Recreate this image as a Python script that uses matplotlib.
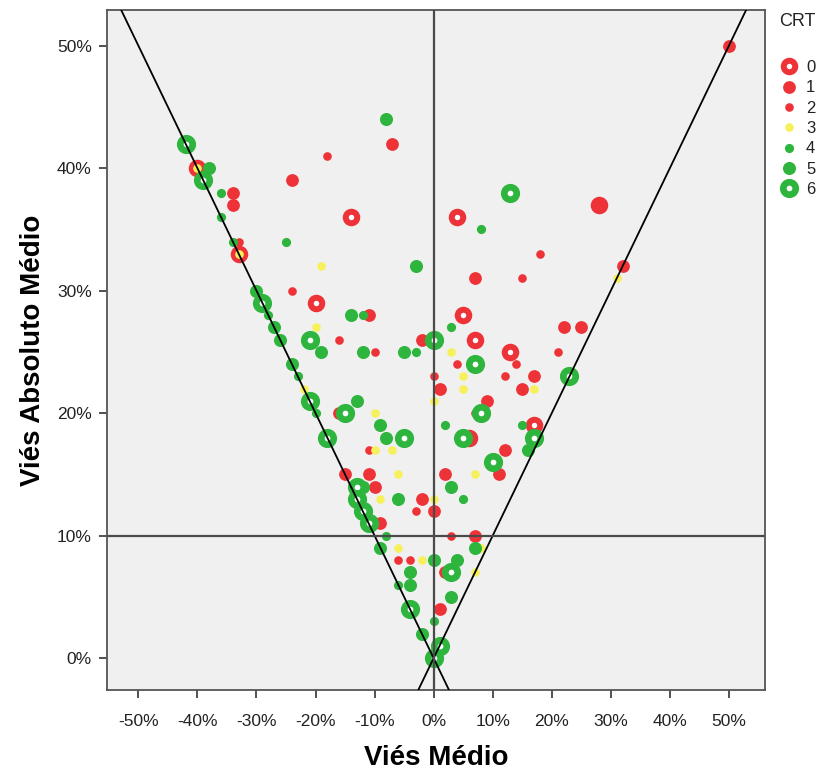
import matplotlib
matplotlib.use("Agg")
import matplotlib.pyplot as plt
from matplotlib.lines import Line2D

# points per CRT group, values in percent (Viés Médio, Viés Absoluto Médio)
crt0_x = [-40, -33, -14, -20, 7, 13, 17, 6, 5, 4, 28]
crt0_y = [40, 33, 36, 29, 26, 25, 19, 18, 28, 36, 37]

crt1_x = [50, -7, -34, -34, -24, -11, -2, -16, -15, -11, -10, -2, 0, -9, 7, 2, 1,
          17, 1, 15, 9, 12, 11, 2, 22, 25, 7, 32, 28]
crt1_y = [50, 42, 38, 37, 39, 28, 26, 20, 15, 15, 14, 13, 12, 11, 10, 7, 4,
          23, 22, 22, 21, 17, 15, 15, 27, 27, 31, 32, 37]

crt2_x = [-18, -33, -24, -16, -10, -11, -3, -6, -4, 3, 21, 4, 14, 0, 12, 7, 18, 15]
crt2_y = [41, 34, 30, 26, 25, 17, 12, 8, 8, 10, 25, 24, 24, 23, 23, 20, 33, 31]

crt3_x = [-40, -33, -19, -20, -22, -10, -10, -7, -6, -9, -6, -2, 0, 8, 7, 3, 5, 5,
          17, 0, 7, 31]
crt3_y = [40, 33, 32, 27, 22, 20, 17, 17, 15, 13, 9, 8, 13, 9, 7, 25, 23, 22,
          22, 21, 15, 31]

crt4_x = [-36, -36, -34, -25, -28, -12, -3, -23, -20, -8, -6, 5, 0, 3, 2, 15, 8]
crt4_y = [38, 36, 34, 34, 28, 28, 25, 23, 20, 10, 6, 13, 3, 27, 19, 19, 35]

crt5_x = [-8, -38, -30, -27, -26, -14, -3, -19, -12, -5, -24, -13, -9, -8, -12, -6,
          -9, -4, -4, -2, 0, 3, 7, 4, 3, 16]
crt5_y = [44, 40, 30, 27, 26, 28, 32, 25, 25, 25, 24, 21, 19, 18, 14, 13,
          9, 7, 6, 2, 8, 14, 9, 8, 5, 17]

crt6_x = [-42, -39, -29, -21, 0, -21, -15, -18, -5, -13, -13, -12, -11, -4, 0, 1,
          7, 23, 8, 5, 17, 10, 3, 13]
crt6_y = [42, 39, 29, 26, 26, 21, 20, 18, 18, 14, 13, 12, 11, 4, 0, 1,
          24, 23, 20, 18, 18, 16, 7, 38]

crt_labels = ["0", "1", "2", "3", "4", "5", "6"]
x_ticks = [-50, -40, -30, -20, -10, 0, 10, 20, 30, 40, 50]
y_ticks = [0, 10, 20, 30, 40, 50]

RED = "#ee3338"
GREEN = "#2db53e"
YELLOW = "#f6f05a"

# (color, marker diameter in pt, ring edge width or 0 for filled)
styles = [
    (RED, 8.3, 4.3),
    (RED, 9.2, 0),
    (RED, 6.2, 0),
    (YELLOW, 6.2, 0),
    (GREEN, 6.6, 0),
    (GREEN, 9.4, 0),
    (GREEN, 9.0, 4.8),
]
groups = [(crt0_x, crt0_y), (crt1_x, crt1_y), (crt2_x, crt2_y), (crt3_x, crt3_y),
          (crt4_x, crt4_y), (crt5_x, crt5_y), (crt6_x, crt6_y)]

plt.rcParams["font.family"] = ["Liberation Sans", "DejaVu Sans"]

fig = plt.figure(figsize=(8.22, 7.75), dpi=100)
ax = fig.add_axes([107 / 822, 1 - 690 / 775, (765 - 107) / 822, (690 - 10) / 775])
ax.set_facecolor("#f0f0f0")

for (gx, gy), (col, ms, lw) in zip(groups, styles):
    if lw > 0:
        ax.scatter(gx, gy, s=ms ** 2, facecolors="white", edgecolors=col,
                   linewidths=lw, zorder=2)
    else:
        ax.scatter(gx, gy, s=ms ** 2, color=col, linewidths=0, zorder=2)

# reference lines
ax.axline((0, 0), (1, 1), color="black", lw=1.3, zorder=3)
ax.axline((0, 0), (1, -1), color="black", lw=1.3, zorder=3)
ax.axhline(10, color="#4a4a4a", lw=1.6, zorder=3)
ax.axvline(0, color="#4a4a4a", lw=1.6, zorder=3)

ax.set_xlim(-55.3, 56.1)
ax.set_ylim(-2.6, 52.9)
ax.set_xticks(x_ticks)
ax.set_xticklabels([f"{t}%" for t in x_ticks])
ax.set_yticks(y_ticks)
ax.set_yticklabels([f"{t}%" for t in y_ticks])
ax.tick_params(direction="out", length=6, width=1.2, color="#333333",
               labelsize=12.5, labelcolor="#222222", pad=5)
ax.tick_params(axis="x", pad=11)
for sp in ax.spines.values():
    sp.set_color("#555555")
    sp.set_linewidth(1.3)

ax.set_xlabel("Viés Médio", fontsize=20, fontweight="bold", labelpad=12)
ax.set_ylabel("Viés Absoluto Médio", fontsize=20, fontweight="bold", labelpad=8)

# legend
handles = []
for col, ms, lw in styles:
    if lw > 0:
        handles.append(Line2D([], [], ls="none", marker="o", markersize=ms,
                              markerfacecolor="white", markeredgecolor=col,
                              markeredgewidth=lw))
    else:
        handles.append(Line2D([], [], ls="none", marker="o", markersize=ms,
                              markerfacecolor=col, markeredgewidth=0))
fig.text(779 / 822, 1 - 21 / 775, "CRT", fontsize=13, va="center", ha="left",
         color="#222222")
fig.legend(handles, crt_labels, loc="upper left",
           bbox_to_anchor=(781 / 822, 1 - 60 / 775), frameon=False,
           fontsize=12, handlelength=1.0, handletextpad=0.5, labelspacing=0.32,
           borderpad=0, borderaxespad=0, labelcolor="#222222")

fig.savefig("out.png", dpi=100)
